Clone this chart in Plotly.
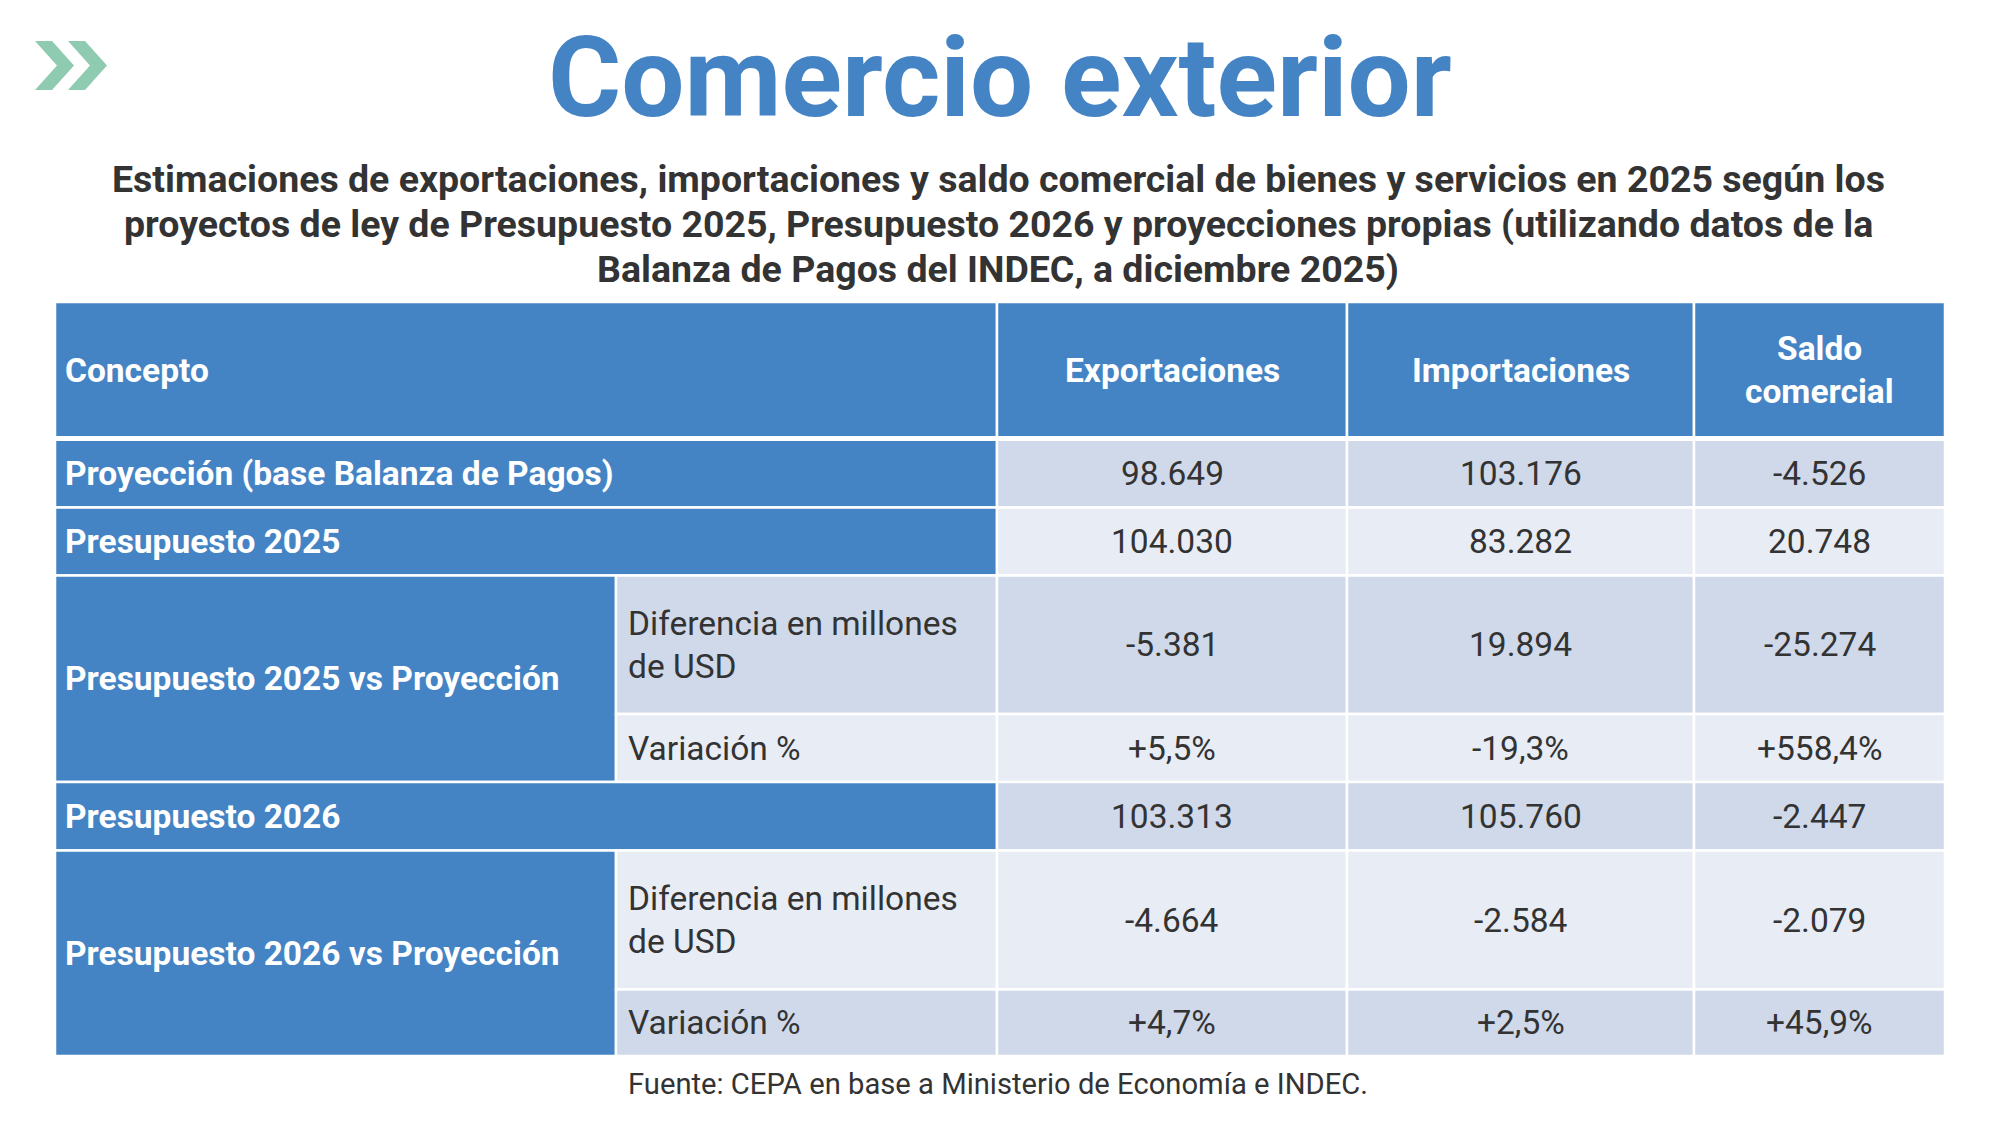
import plotly.graph_objects as go

# ---------------- data ----------------
title_text = "Comercio exterior"
subtitle_lines = [
    "Estimaciones de exportaciones, importaciones y saldo comercial de bienes y servicios en 2025 según los",
    "proyectos de ley de Presupuesto 2025, Presupuesto 2026 y proyecciones propias (utilizando datos de la",
    "Balanza de Pagos del INDEC, a diciembre 2025)",
]
header_concept = "Concepto"
columns = ["Exportaciones", "Importaciones", "Saldo<br>comercial"]

concepts = [
    "Proyección (base Balanza de Pagos)",
    "Presupuesto 2025",
    "Presupuesto 2025 vs Proyección",
    "Presupuesto 2026",
    "Presupuesto 2026 vs Proyección",
]
sub_labels = ["Diferencia en millones<br>de USD", "Variación %"]

proyeccion = [98649, 103176, -4526]
presupuesto_2025 = [104030, 83282, 20748]
dif_2025 = [-5381, 19894, -25274]
var_2025 = [5.5, -19.3, 558.4]
presupuesto_2026 = [103313, 105760, -2447]
dif_2026 = [-4664, -2584, -2079]
var_2026 = [4.7, 2.5, 45.9]

source_text = "Fuente: CEPA en base a Ministerio de Economía e INDEC."

# ---------------- style / layout ----------------
W, H = 2000, 1125
BLUE = "#4584c4"
DARK = "#cfd9ea"
LIGHT = "#e8ecf5"
TXT = "#333333"
GREEN = "#8fcbb0"
FONT = "Roboto"
CELL_SIZE = 33.5

col_edges = [55, 616, 997, 1347, 1694, 1945]
header_top, header_bot = 302, 438.5
row_edges = [438.5, 507.5, 575.5, 714, 782, 850.5, 989.5, 1056]


def fmt_money(v):
    return f"{v:,}".replace(",", ".")


def fmt_pct(v):
    return f"{v:+.1f}%".replace(".", ",")


# each table row: (concept index or None, sub label index or None, formatted values)
rows = [
    (0, None, [fmt_money(v) for v in proyeccion]),
    (1, None, [fmt_money(v) for v in presupuesto_2025]),
    (2, 0, [fmt_money(v) for v in dif_2025]),
    (None, 1, [fmt_pct(v) for v in var_2025]),
    (3, None, [fmt_money(v) for v in presupuesto_2026]),
    (4, 0, [fmt_money(v) for v in dif_2026]),
    (None, 1, [fmt_pct(v) for v in var_2026]),
]

fig = go.Figure()
fig.add_trace(go.Scatter(x=[0, W], y=[0, H], mode="markers",
                         marker=dict(opacity=0), hoverinfo="skip", showlegend=False))

shapes = []
annotations = []


def rect(x0, x1, y0, y1, color, lw=2.5):
    shapes.append(dict(type="rect", xref="x", yref="y", x0=x0, x1=x1, y0=y0, y1=y1,
                       fillcolor=color, line=dict(color="white", width=lw), layer="below"))


def text(x, y, s, size=CELL_SIZE, color=TXT, bold=False, xanchor="center", yanchor="middle",
         line_gap=43.4):
    lines = s.split("<br>")
    n = len(lines)
    for i, ln in enumerate(lines):
        yy = y + (i - (n - 1) / 2) * line_gap
        annotations.append(dict(x=x, y=yy, xref="x", yref="y", text=ln, showarrow=False,
                                xanchor=xanchor, yanchor=yanchor,
                                font=dict(family=FONT, size=size, color=color,
                                          weight=700 if bold else 400)))


# header
rect(col_edges[0], col_edges[2], header_top, header_bot, BLUE)
text(col_edges[0] + 8, (header_top + header_bot) / 2, header_concept, color="white", bold=True, xanchor="left")
for j, c in enumerate(columns):
    rect(col_edges[2 + j], col_edges[3 + j], header_top, header_bot, BLUE)
    text((col_edges[2 + j] + col_edges[3 + j]) / 2, (header_top + header_bot) / 2, c, color="white", bold=True)

# body
for i, (ci, si, vals) in enumerate(rows):
    y0, y1 = row_edges[i], row_edges[i + 1]
    shade = DARK if i % 2 == 0 else LIGHT
    if ci is not None:
        span = 2 if si is not None else 1
        yb = row_edges[i + span]
        xr = col_edges[1] if si is not None else col_edges[2]
        rect(col_edges[0], xr, y0, yb, BLUE)
        text(col_edges[0] + 8, (y0 + yb) / 2, concepts[ci], color="white", bold=True, xanchor="left")
    if si is not None:
        rect(col_edges[1], col_edges[2], y0, y1, shade)
        text(col_edges[1] + 10, (y0 + y1) / 2, sub_labels[si], xanchor="left")
    for j, v in enumerate(vals):
        rect(col_edges[2 + j], col_edges[3 + j], y0, y1, shade)
        text((col_edges[2 + j] + col_edges[3 + j]) / 2, (y0 + y1) / 2, v)

# extra white gap under header
shapes.append(dict(type="line", xref="x", yref="y", x0=col_edges[0], x1=col_edges[-1],
                   y0=header_bot, y1=header_bot, line=dict(color="white", width=5), layer="below"))


# chevron icon
def chevron(x0, top=41, bot=90, a=17, d=22):
    mid = (top + bot) / 2
    return (f"M {x0},{top} L {x0 + a},{top} L {x0 + a + d},{mid} L {x0 + a},{bot} "
            f"L {x0},{bot} L {x0 + d},{mid} Z")


for x0 in (35, 68):
    shapes.append(dict(type="path", xref="x", yref="y", path=chevron(x0),
                       fillcolor=GREEN, line=dict(width=0)))

# title / subtitle / source
text(1000, 77, title_text, size=112, color=BLUE, bold=True)
text(998, 224, "<br>".join(subtitle_lines), size=37.5, color=TXT, bold=True, line_gap=44.6)
text(998, 1084, source_text, size=29.2, color=TXT)

fig.update_layout(
    width=W, height=H, margin=dict(l=0, r=0, t=0, b=0),
    paper_bgcolor="white", plot_bgcolor="white",
    xaxis=dict(range=[0, W], visible=False, fixedrange=True),
    yaxis=dict(range=[H, 0], visible=False, fixedrange=True),
    shapes=shapes, annotations=annotations, showlegend=False,
)

fig.write_html("out.html", config={"displayModeBar": False},
               post_script="document.body.style.margin='0';document.body.style.overflow='hidden';")
